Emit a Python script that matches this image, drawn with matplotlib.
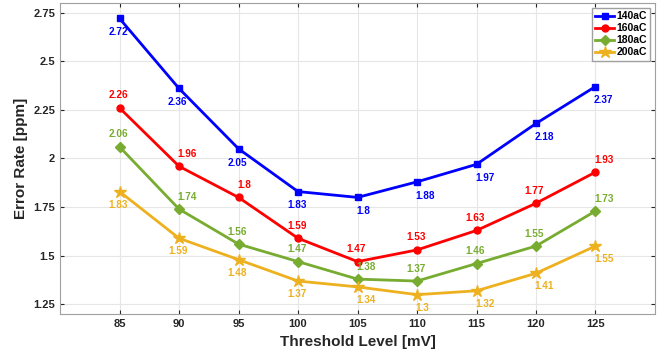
import matplotlib
matplotlib.use('Agg')
import matplotlib.pyplot as plt

plt.rcParams['font.family'] = ['Liberation Sans', 'DejaVu Sans']
plt.rcParams['font.weight'] = 'bold'

thresholds = [85, 90, 95, 100, 105, 110, 115, 120, 125]
rate_140 = [2.72, 2.36, 2.05, 1.83, 1.80, 1.88, 1.97, 2.18, 2.37]
rate_160 = [2.26, 1.96, 1.80, 1.59, 1.47, 1.53, 1.63, 1.77, 1.93]
rate_180 = [2.06, 1.74, 1.56, 1.47, 1.38, 1.37, 1.46, 1.55, 1.73]
rate_200 = [1.83, 1.59, 1.48, 1.37, 1.34, 1.30, 1.32, 1.41, 1.55]
labels = ['140aC', '160aC', '180aC', '200aC']

# value label alignment per point: 'c' centred on the marker, 'l' starts at it
align_140 = ['c', 'c', 'c', 'c', 'l', 'l', 'l', 'l', 'l']
align_160 = ['c', 'l', 'l', 'c', 'c', 'c', 'c', 'c', 'l']
align_180 = ['c', 'l', 'c', 'c', 'l', 'c', 'c', 'c', 'l']
align_200 = ['c', 'c', 'c', 'c', 'l', 'l', 'l', 'l', 'l']

# values, alignment, colour, marker, marker size, label dy in points
series = [
    (rate_140, align_140, '#0000FF', 's', 5, -10),
    (rate_160, align_160, '#FF0000', 'o', 5, 9),
    (rate_180, align_180, '#77AC30', 'D', 5, 9),
    (rate_200, align_200, '#EDB120', '*', 9, -9.5),
]

fig = plt.figure(figsize=(6.7, 3.59), dpi=100)
ax = fig.add_axes([0.0896, 0.125, 0.888, 0.867])

for (vals, align, color, marker, ms, dy), name in zip(series, labels):
    ax.plot(thresholds, vals, color=color, marker=marker, markersize=ms,
            linewidth=2, label=name)
    for x, v, a in zip(thresholds, vals, align):
        ha = 'center' if a == 'c' else 'left'
        ax.annotate(f'{v:g}', (x, v), xytext=(-1, dy), textcoords='offset points',
                    ha=ha, va='center', fontsize=7.2, fontweight='bold',
                    color=color)

ax.set_xlim(80, 130)
ax.set_ylim(1.2, 2.8)
ax.set_xticks(thresholds)
ax.set_yticks([1.25, 1.5, 1.75, 2, 2.25, 2.5, 2.75])
ax.set_yticklabels(['1.25', '1.5', '1.75', '2', '2.25', '2.5', '2.75'])
ax.tick_params(labelsize=8, colors='#262626', direction='in', length=3,
               top=True, right=True)
ax.grid(True, color='#e6e6e6', linewidth=0.8)
for s in ax.spines.values():
    s.set_color('#a0a0a0')
ax.set_xlabel('Threshold Level [mV]', fontsize=11, fontweight='bold', color='#262626')
ax.set_ylabel('Error Rate [ppm]', fontsize=11, fontweight='bold', color='#262626')

leg = ax.legend(loc='upper right', fontsize=7.5, handlelength=1.8,
                borderpad=0.3, labelspacing=0.2, handletextpad=0.2,
                fancybox=False, framealpha=1)
leg.get_frame().set_edgecolor('#a0a0a0')

fig.savefig('out.png', dpi=100)
